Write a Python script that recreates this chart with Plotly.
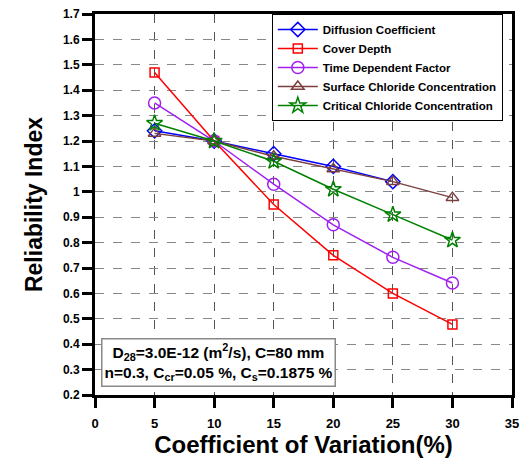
import plotly.graph_objects as go

cov = [5, 10, 15, 20, 25, 30]
diffusion = [1.24, 1.20, 1.15, 1.10, 1.04]
cover_depth = [1.47, 1.20, 0.95, 0.75, 0.60, 0.478]
time_factor = [1.35, 1.20, 1.03, 0.87, 0.742, 0.641]
surface_cl = [1.23, 1.20, 1.14, 1.09, 1.04, 0.977]
critical_cl = [1.27, 1.20, 1.12, 1.01, 0.91, 0.81]

names = ["Diffusion Coefficient", "Cover Depth", "Time Dependent Factor",
         "Surface Chloride Concentration", "Critical Chloride Concentration"]
series = [diffusion, cover_depth, time_factor, surface_cl, critical_cl]
colors = ["#0000ff", "#ff0000", "#a020f0", "#7b3f3f", "#008000"]
symbols = ["diamond-open", "square-open", "circle-open", "triangle-up-open", "star-open"]
sizes = [11, 9, 12, 11, 12]

xticks = [0, 5, 10, 15, 20, 25, 30, 35]
yticks = [0.2, 0.3, 0.4, 0.5, 0.6, 0.7, 0.8, 0.9, 1.0, 1.1, 1.2, 1.3, 1.4, 1.5, 1.6, 1.7]
yticklabels = ["0.2", "0.3", "0.4", "0.5", "0.6", "0.7", "0.8", "0.9", "1",
               "1.1", "1.2", "1.3", "1.4", "1.5", "1.6", "1.7"]

fig = go.Figure()
for n, s, c, sym, sz in zip(names, series, colors, symbols, sizes):
    fig.add_trace(go.Scatter(
        x=cov[:len(s)], y=s, name=n, mode="lines+markers",
        line=dict(color=c, width=1.5),
        marker=dict(symbol=sym, size=sz, color=c, line=dict(color=c, width=1.5)),
    ))

fig.update_layout(
    width=530, height=460,
    margin=dict(l=95, r=18, t=14, b=65),
    plot_bgcolor="white", paper_bgcolor="white",
    font=dict(family="Liberation Sans, Arial", color="black"),
    showlegend=True,
    legend=dict(
        x=0.424, y=1.0, xanchor="left", yanchor="top",
        bgcolor="white", bordercolor="black", borderwidth=1,
        font=dict(size=11.5, family="Liberation Sans, Arial", weight="bold"),
        tracegroupgap=0, itemwidth=40,
    ),
    xaxis=dict(
        range=[0, 35], tickvals=xticks, automargin=False,
        ticks="outside", ticklen=10, tickwidth=3, tickcolor="black",
        showline=True, linewidth=3, linecolor="black", mirror=True,
        showgrid=True, gridcolor="#555555", griddash="dash", gridwidth=1,
        zeroline=False, ticklabelstandoff=4,
        tickfont=dict(size=13, family="Liberation Sans, Arial", weight="bold"),
        title=dict(text="<b>Coefficient of Variation(%)</b>",
                   font=dict(size=24, family="Liberation Sans, Arial"), standoff=3),
    ),
    yaxis=dict(
        range=[0.2, 1.7], tickvals=yticks, ticktext=yticklabels, automargin=False,
        ticks="outside", ticklen=10, tickwidth=3, tickcolor="black",
        showline=True, linewidth=3, linecolor="black", mirror=True,
        showgrid=True, gridcolor="#888888", griddash="dash", gridwidth=1,
        zeroline=False,
        tickfont=dict(size=12, family="Liberation Sans, Arial", weight="bold"),
        title=dict(text="<b>Reliability Index</b>",
                   font=dict(size=23, family="Liberation Sans, Arial"), standoff=14),
    ),
    annotations=[dict(
        x=0.014, y=0.02, xref="paper", yref="paper", xanchor="left", yanchor="bottom",
        text="<b>D<sub>28</sub>=3.0E-12 (m<sup>2</sup>/s), C=80 mm</b><br>"
             "<b>n=0.3, C<sub>cr</sub>=0.05 %, C<sub>s</sub>=0.1875 %</b>",
        showarrow=False, align="center",
        font=dict(size=15.5, family="Liberation Sans, Arial"),
        bgcolor="white", bordercolor="#888888", borderwidth=1.5, borderpad=2,
    )],
)

fig.write_html("out.html", config={"displayModeBar": False},
               post_script="document.body.style.margin='0';document.body.style.overflow='hidden';")
